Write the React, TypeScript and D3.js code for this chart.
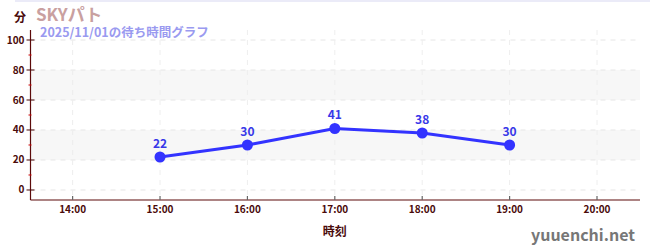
import React from "react";
import * as d3 from "d3";

const hours = [15, 16, 17, 18, 19];
const waits = [22, 30, 41, 38, 30];
const xTickHours = [14, 15, 16, 17, 18, 19, 20];
const yTicks = [0, 20, 40, 60, 80, 100];
const yMinorTicks = [10, 30, 50, 70, 90];
const bands = [[20, 40], [60, 80]];

const FONT = "'Noto Sans CJK JP', 'Noto Sans', sans-serif";

export default function App() {
  const W = 650, H = 250;
  const left = 30.5, right = 640, top = 30, bottom = 200;
  const x = d3.scaleLinear().domain([13.518, 20.492]).range([left, right]);
  const y = d3.scaleLinear().domain([-6.67, 106.67]).range([bottom, top]);
  const line = d3.line<number>().x((_, i) => x(hours[i])).y((d) => y(d));
  const axisColor = "#5c0a0a";
  const textColor = "#4a0a0a";
  return (
    <svg width={W} height={H} style={{ position: "absolute", left: 0, top: 0, background: "#fff" }} fontFamily={FONT}>
      <line x1={15} x2={650} y1={1} y2={1} stroke="#e4e4f6" strokeWidth={1.5} />
      {bands.map(([a, b], i) => (
        <rect key={i} x={left} y={y(b)} width={right - left} height={y(a) - y(b)} fill="#f7f7f7" />
      ))}
      {yTicks.map((t) => (
        <line key={"gy" + t} x1={left} x2={right} y1={y(t)} y2={y(t)} stroke="#e6e6e6" strokeDasharray="5,5" />
      ))}
      {xTickHours.map((h) => (
        <line key={"gx" + h} x1={x(h)} x2={x(h)} y1={top} y2={bottom} stroke="#eeeeee" strokeDasharray="5,5" />
      ))}
      <line x1={left} x2={left} y1={top} y2={bottom} stroke={axisColor} strokeWidth={1.2} />
      <line x1={left} x2={right} y1={bottom} y2={bottom} stroke={axisColor} strokeWidth={1.2} />
      {yTicks.map((t) => (
        <g key={"yt" + t}>
          <line x1={left - 4} x2={left + 4} y1={y(t)} y2={y(t)} stroke={textColor} />
          <text x={left - 6} y={y(t)} dy="0.35em" textAnchor="end" fontSize={10} fontWeight="bold" fill={textColor}>{t}</text>
        </g>
      ))}
      {yMinorTicks.map((t) => (
        <line key={"ym" + t} x1={left - 2} x2={left + 1} y1={y(t)} y2={y(t)} stroke="#cc0000" />
      ))}
      {xTickHours.map((h) => (
        <g key={"xt" + h}>
          <line x1={x(h)} x2={x(h)} y1={bottom - 4} y2={bottom} stroke="#666" strokeWidth={1.2} />
          <text x={x(h)} y={bottom + 13} textAnchor="middle" fontSize={10} fontWeight="bold" fill={textColor}>{h}:00</text>
        </g>
      ))}
      <text x={x(17)} y={236} textAnchor="middle" fontSize={12} fontWeight="bold" fill={textColor}>時刻</text>
      <text x={14} y={22} fontSize={12} fontWeight="bold" fill={textColor}>分</text>
      <text x={36} y={21} fontSize={17} fontWeight="bold" fill="#c9a0a0">SKYパト</text>
      <text x={40} y={37} fontSize={12.5} fontWeight="bold" fill="#9a9af0">2025/11/01の待ち時間グラフ</text>
      <path d={line(waits) || ""} fill="none" stroke="#3333ff" strokeWidth={3} />
      {waits.map((v, i) => (
        <g key={"p" + i}>
          <circle cx={x(hours[i])} cy={y(v)} r={5.5} fill="#3333ff" />
          <text x={x(hours[i])} y={y(v) - 9} textAnchor="middle" fontSize={12} fontWeight="bold" fill="#3838e8">{v}</text>
        </g>
      ))}
      <text x={635} y={241} textAnchor="end" fontSize={16} fontWeight="bold" fill="#777">yuuenchi.net</text>
    </svg>
  );
}
